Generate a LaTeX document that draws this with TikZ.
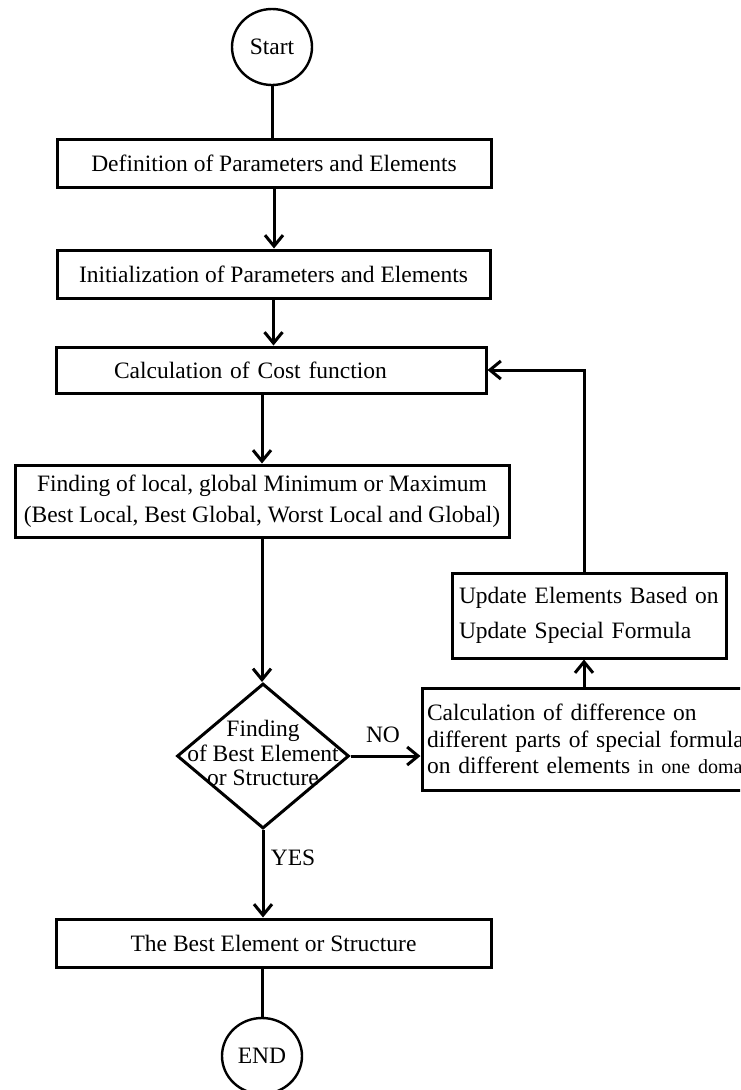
\documentclass[tikz,border=0pt]{standalone}
\usepackage{fontspec}
\setmainfont{Liberation Serif}
\usetikzlibrary{shapes.geometric,arrows.meta}

\begin{document}
\begin{tikzpicture}[x=1pt, y=-1pt,
  every node/.style={font=\fontsize{23.5}{28}\selectfont},
  stepbox/.style={draw, line width=3pt, rectangle, inner sep=0pt},
  terminal/.style={draw, line width=2.4pt, ellipse, inner sep=0pt},
  decision/.style={draw, line width=3pt, diamond, inner sep=0pt, minimum width=172pt, minimum height=145pt},
  flow/.style={line width=3pt, -{Straight Barb[length=11pt,width=18pt]}},
  link/.style={line width=3pt}]
  \useasboundingbox (0,0) rectangle (740,1090);
  \clip (0,0) rectangle (740,1090);

  % main column
  \node[terminal, minimum width=80pt, minimum height=76pt] (start) at (272,47) {Start};
  \node[stepbox, minimum width=434pt, minimum height=48pt] (def) at (274,163) {Definition of Parameters and Elements};
  \node[stepbox, minimum width=433pt, minimum height=48pt] (init) at (273.5,274) {Initialization of Parameters and Elements};
  \node[stepbox, text width=314pt, inner xsep=58pt, minimum height=46pt, align=left] (cost) at (271,370) {Calculation of Cost function};
  \node[stepbox, minimum width=494pt, minimum height=72pt, align=center, font=\fontsize{23.5}{31}\selectfont] (extremum) at (262,501) {Finding of local, global Minimum or Maximum\\(Best Local, Best Global, Worst Local and Global)};
  \node[decision] (check) at (263,756) {};
  \node[align=center, font=\fontsize{23.5}{24.5}\selectfont] (checktext) at ([yshift=3pt]check.center) {Finding\\of Best Element\\or Structure};
  \node[stepbox, minimum width=435pt, minimum height=48pt] (best) at (273.5,943) {The Best Element or Structure};
  \node[terminal, minimum width=80pt, minimum height=76pt] (end) at (262,1056) {END};

  % right branch
  \node[stepbox, text width=260pt, inner xsep=7pt, minimum height=85pt, align=left, font=\fontsize{23.5}{35}\selectfont] (update) at (589,615.5) {\mbox{Update Elements Based on}\\\mbox{Update Special Formula}};
  \node[stepbox, text width=328pt, inner xsep=5pt, minimum height=102pt, align=left, font=\fontsize{23.5}{26.5}\selectfont] (diff) at (591,739) {\mbox{Calculation of difference on}\\\mbox{different parts of special formula}\\\mbox{on different elements {\fontsize{20}{20}\selectfont in one domain}}};
  \coordinate (loop) at (584,372);

  % labels
  \node (no) at (383,735) {NO};
  \node (yes) at (293,858) {YES};

  % connectors
  \draw[link] (start.south) -- (start.south |- def.north);
  \draw[flow] (def.south) -- (def.south |- init.north);
  \draw[flow] (init.south) -- (init.south |- cost.north);
  \draw[flow] (extremum.north |- cost.south) -- (extremum.north);
  \draw[flow] (extremum.south) -- (extremum.south |- check.north);
  \draw[flow] (check.east) -- (check.east -| diff.west);
  \draw[flow] (loop |- diff.north) -- (loop |- update.south);
  \draw[flow] (loop |- update.north) |- (cost.east);
  \draw[flow] (check.south) -- (check.south |- best.north);
  \draw[link] (end.north |- best.south) -- (end.north);
\end{tikzpicture}
\end{document}
